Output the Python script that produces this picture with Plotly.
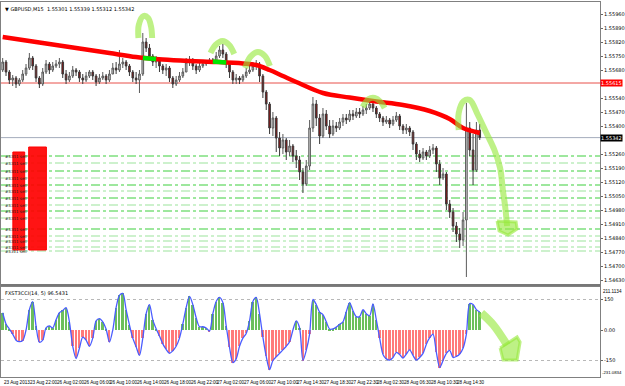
import plotly.graph_objects as go

# ---------------- data ----------------
first_open = 1.5568
closes = [1.5572,1.5567,1.5563,1.5564,1.5561,1.5563,1.5566,1.5569,1.5574,1.5570,
          1.5564,1.5561,1.5567,1.5571,1.5568,1.5570,1.5571,1.5572,1.5566,1.5563,
          1.5565,1.5568,1.5567,1.5564,1.5563,1.5565,1.5567,1.5565,1.5562,1.5564,
          1.5565,1.5563,1.5566,1.5569,1.5568,1.5571,1.5572,1.5570,1.5567,1.5564,
          1.5563,1.5566,1.5582,1.5579,1.5575,1.5572,1.5573,1.5570,1.5568,1.5569,
          1.5564,1.5561,1.5563,1.5565,1.5567,1.5572,1.5573,1.5570,1.5568,1.5570,
          1.5571,1.5572,1.5573,1.5572,1.5575,1.5578,1.5576,1.5571,1.5567,1.5563,
          1.5564,1.5563,1.5565,1.5567,1.5568,1.5570,1.5571,1.5565,1.5557,1.5551,
          1.5539,1.5544,1.5534,1.5529,1.5533,1.5527,1.5530,1.5525,1.5523,1.5517,
          1.5511,1.5520,1.5539,1.5551,1.5544,1.5535,1.5546,1.5540,1.5536,1.5540,
          1.5539,1.5542,1.5544,1.5543,1.5546,1.5545,1.5547,1.5546,1.5548,1.5549,
          1.5551,1.5549,1.5546,1.5544,1.5542,1.5543,1.5541,1.5543,1.5545,1.5540,
          1.5538,1.5539,1.5537,1.5531,1.5526,1.5524,1.5527,1.5525,1.5528,1.5529,
          1.5521,1.5514,1.5516,1.5501,1.5497,1.5490,1.5486,1.5483,1.5493,1.5539,
          1.5528,1.5518,1.5538,1.55342]
highs = [1.5574,1.5573,1.5568,1.55655,1.5565,1.5564,1.5568,1.5571,1.55765,1.5575,
         1.5571,1.5565,1.5569,1.5573,1.5572,1.5572,1.5573,1.5574,1.5573,1.5568,
         1.5567,1.5570,1.5569,1.5568,1.5566,1.5567,1.5568,1.5568,1.5566,1.5566,
         1.5567,1.5566,1.5568,1.55715,1.5572,1.5578,1.5574,1.5573,1.5571,1.5568,
         1.5567,1.5568,1.55865,1.5584,1.5581,1.5576,1.5575,1.5574,1.5571,1.5571,
         1.5570,1.5565,1.5565,1.5567,1.5569,1.5574,1.5575,1.5574,1.5571,1.5572,
         1.5573,1.5573,1.5574,1.5574,1.5577,1.5580,1.5581,1.5577,1.5572,1.5568,
         1.5566,1.5565,1.5566,1.5569,1.5570,1.5572,1.5573,1.5572,1.5566,1.5558,
         1.5552,1.5547,1.5545,1.5537,1.5536,1.5534,1.5533,1.5531,1.5528,1.5525,
         1.5519,1.5523,1.5543,1.55545,1.5553,1.5546,1.5549,1.5548,1.5543,1.5543,
         1.5542,1.5544,1.5546,1.5546,1.5548,1.5548,1.5549,1.5549,1.5550,1.5551,
         1.5553,1.55525,1.5550,1.5547,1.5545,1.5545,1.5544,1.5545,1.5547,1.5546,
         1.5541,1.5541,1.5540,1.5538,1.5532,1.5528,1.5529,1.5528,1.5530,1.5531,
         1.5530,1.5523,1.5519,1.5517,1.5503,1.5499,1.5492,1.5489,1.5497,1.55515,
         1.5542,1.5536,1.5542,1.5541]
lows = [1.5567,1.5565,1.5561,1.5560,1.5559,1.5560,1.5562,1.5565,1.5568,1.5568,
        1.5562,1.5559,1.5560,1.5566,1.5566,1.5567,1.5569,1.5569,1.5564,1.5561,
        1.5562,1.5564,1.5565,1.5562,1.5561,1.5562,1.5564,1.5563,1.5560,1.5561,
        1.5563,1.5561,1.5562,1.5566,1.5566,1.5567,1.5569,1.5568,1.5565,1.5562,
        1.5561,1.55565,1.5565,1.5577,1.5573,1.5570,1.5569,1.5567,1.5566,1.5565,
        1.5562,1.5559,1.5560,1.5562,1.5564,1.5567,1.5570,1.5568,1.5566,1.5567,
        1.5569,1.5570,1.5571,1.5571,1.5572,1.5574,1.5574,1.5569,1.5564,1.5561,
        1.5561,1.5561,1.5562,1.5564,1.5566,1.5567,1.5568,1.5562,1.5554,1.5548,
        1.5536,1.5535,1.5527,1.5525,1.5526,1.5523,1.5525,1.5522,1.5519,1.5513,
        1.55065,1.5510,1.5518,1.5537,1.5540,1.5531,1.5534,1.5538,1.5534,1.5535,
        1.5537,1.5538,1.5540,1.5541,1.5542,1.5543,1.5544,1.5544,1.5545,1.5546,
        1.5548,1.5547,1.5544,1.5542,1.5540,1.5541,1.5539,1.5540,1.5542,1.5538,
        1.5536,1.5536,1.5535,1.5528,1.5523,1.5522,1.5523,1.5523,1.5524,1.5526,
        1.5517,1.55105,1.5513,1.5498,1.5494,1.5487,1.5482,1.5479,1.5480,1.54645,
        1.5525,1.55105,1.5517,1.5533]

cci = [85,30,5,-20,-50,-57,-52,0,100,140,
       20,-60,-50,10,20,10,50,85,96,110,
       40,-80,-140,-90,-35,-50,-80,-40,45,56,
       40,5,-60,0,110,170,180,100,25,-40,
       -82,-125,-40,80,125,50,6,-30,-68,-95,
       -115,-102,-80,-40,30,110,165,125,60,16,
       16,10,-5,80,140,160,135,20,-85,-160,
       -142,-80,-40,-17,45,140,160,80,-35,-130,
       -195,-150,-132,-115,-98,-80,-58,0,45,10,
       -150,-100,-20,150,125,88,76,40,5,5,
       14,28,40,90,135,95,66,66,100,80,
       70,128,50,-40,-120,-142,-148,-135,-110,-120,
       -138,-118,-98,-125,-148,-135,-115,-70,-38,-20,
       -110,-185,-150,-115,-100,-135,-130,-118,-90,-20,
       130,125,100,88]

ma_idx = [0,8,16,24,32,40,48,56,64,72,76,80,84,88,96,104,112,120,128,134,138,143]
ma_val = [1.55845,1.55825,1.55805,1.55785,1.55765,1.55745,1.557325,1.55725,1.5572,
          1.557125,1.55705,1.5568,1.5565,1.5562,1.55565,1.555425,1.555225,1.55505,
          1.55475,1.55435,1.5539,1.55365]
hl_segments = [([42, 46], [1.55740, 1.55735]), ([63, 67], [1.55722, 1.55718])]

tick_every = 8
time_labels = ["23 Aug 2013", "23 Aug 22:00", "26 Aug 02:00", "26 Aug 06:00", "26 Aug 10:00",
               "26 Aug 14:00", "26 Aug 18:00", "26 Aug 22:00", "27 Aug 02:00", "27 Aug 06:00",
               "27 Aug 10:00", "27 Aug 14:30", "27 Aug 18:30", "27 Aug 22:30", "28 Aug 02:30",
               "28 Aug 06:30", "28 Aug 10:30", "28 Aug 14:30"]

price_ticks = [1.5596, 1.5589, 1.5582, 1.5575, 1.5568, 1.5554, 1.5547, 1.5540,
               1.5526, 1.5519, 1.5512, 1.5505, 1.5498, 1.5491, 1.5484, 1.5477, 1.5470, 1.5463]
red_level = 1.55615
bid_level = 1.55342
order_levels = [1.5525, 1.55215, 1.55175, 1.5514, 1.55105, 1.55075, 1.5504, 1.55005,
                1.54975, 1.5494, 1.54885, 1.5485, 1.54825, 1.54795, 1.54775]
order_strong = [1, 0, 1, 0, 1, 0, 1, 0, 1, 0, 1, 0, 0, 0, 0]

# hand-drawn highlighter marks (bar index, price)
arcs = [
    ([40.7, 40.8, 42.2, 43.6, 44.5, 44.8], [1.5584, 1.55905, 1.5595, 1.5594, 1.55895, 1.5584]),
    ([62.3, 63.8, 65.9, 67.9, 69.4], [1.55765, 1.55805, 1.55825, 1.55805, 1.5576]),
    ([72.7, 74.2, 76.5, 78.6, 80.1], [1.5569, 1.55745, 1.5577, 1.5575, 1.5570]),
    ([107.9, 109.7, 111.5, 113.3, 114.5], [1.55495, 1.55535, 1.5554, 1.5552, 1.5549]),
    ([136.7, 136.7, 138.2, 140.0, 142.3, 145.0, 147.4, 149.1, 150.0, 150.6, 151.2],
     [1.5538, 1.55465, 1.55525, 1.5553, 1.5546, 1.55365, 1.5528, 1.5519, 1.5507, 1.5500, 1.5490]),
]
arrow_head_x = [148.2, 153.9, 154.2, 151.5, 148.8, 148.2]
arrow_head_y = [1.54925, 1.5492, 1.54885, 1.54855, 1.54875, 1.54925]
sub_arrow_x = [143.5, 147.1, 151.2]
sub_arrow_y = [83.6, 24.6, -73.8]
sub_head_x = [149.1, 154.2, 155.1, 154.2, 150.0, 149.1]
sub_head_y = [-88.5, -34.0, -59.0, -147.5, -147.5, -88.5]
scribbles = [((3.05, 6.6), (1.5478, 1.5527)), ((7.8, 13.1), (1.5478, 1.55295))]

x_range = [-0.504, 179.05]
main_range = [1.54605, 1.5602]
sub_range = [-231.1, 211.5]

# ---------------- figure ----------------
opens = [first_open] + closes[:-1]
idx = list(range(len(closes)))
FONT = "DejaVu Sans"
NARROW = "Liberation Sans Narrow, Liberation Sans, Arial Narrow, sans-serif"
LIME = "rgba(150,232,60,0.62)"

fig = go.Figure()

# red scribble blocks (hand drawing)
for (xa, xb), (ya, yb) in scribbles:
    fig.add_trace(go.Scatter(x=[xa, xb, xb, xa, xa], y=[ya, ya, yb, yb, ya], mode="lines",
                             fill="toself", fillcolor="rgba(255,0,0,0.92)",
                             line=dict(color="#ff0000", width=1), showlegend=False,
                             hoverinfo="skip", xaxis="x", yaxis="y"))

fig.add_trace(go.Candlestick(x=idx, open=opens, high=highs, low=lows, close=closes,
                             increasing=dict(line=dict(color="#5a5a5a", width=1), fillcolor="#d0d0d0"),
                             decreasing=dict(line=dict(color="#3a3a3a", width=1), fillcolor="#8e1010"),
                             whiskerwidth=0, showlegend=False, hoverinfo="skip",
                             xaxis="x", yaxis="y"))

fig.add_trace(go.Scatter(x=ma_idx, y=ma_val, mode="lines", line=dict(color="#ff0000", width=4.5, shape="spline"),
                         showlegend=False, hoverinfo="skip", xaxis="x", yaxis="y"))
for hx, hy in hl_segments:
    fig.add_trace(go.Scatter(x=hx, y=hy, mode="lines", line=dict(color="#00e600", width=4.5),
                             showlegend=False, hoverinfo="skip", xaxis="x", yaxis="y"))

for ax_, ay_ in arcs:
    fig.add_trace(go.Scatter(x=ax_, y=ay_, mode="lines", line=dict(color=LIME, width=6, shape="spline"),
                             showlegend=False, hoverinfo="skip", xaxis="x", yaxis="y"))
fig.add_trace(go.Scatter(x=arrow_head_x, y=arrow_head_y, mode="lines", fill="toself", fillcolor=LIME,
                         line=dict(color=LIME, width=3), showlegend=False, hoverinfo="skip",
                         xaxis="x", yaxis="y"))

# indicator panel
bar_colors = ["#6cbf5c" if v >= 0 else "#ff7a7a" for v in cci]
fig.add_trace(go.Bar(x=idx, y=cci, width=0.55, marker=dict(color=bar_colors, line=dict(width=0)),
                     showlegend=False, hoverinfo="skip", xaxis="x2", yaxis="y2"))
fig.add_trace(go.Scatter(x=idx, y=cci, mode="lines", line=dict(color="#4a5cff", width=1.3, shape="spline", smoothing=0.8),
                         showlegend=False, hoverinfo="skip", xaxis="x2", yaxis="y2"))
fig.add_trace(go.Scatter(x=sub_arrow_x, y=sub_arrow_y, mode="lines", line=dict(color=LIME, width=8, shape="spline"),
                         showlegend=False, hoverinfo="skip", xaxis="x2", yaxis="y2"))
fig.add_trace(go.Scatter(x=sub_head_x, y=sub_head_y, mode="lines", fill="toself", fillcolor=LIME,
                         line=dict(color=LIME, width=3), showlegend=False, hoverinfo="skip",
                         xaxis="x2", yaxis="y2"))

shapes = []
for lvl, strong in zip(order_levels, order_strong):
    shapes.append(dict(type="line", xref="paper", yref="y", x0=0, x1=1, y0=lvl, y1=lvl, layer="below",
                       line=dict(color="#3ccf3c" if strong else "#9be39b", width=1, dash="dashdot")))
shapes.append(dict(type="line", xref="paper", yref="y", x0=0, x1=1, y0=red_level, y1=red_level,
                   layer="below", line=dict(color="#e8504a", width=1)))
shapes.append(dict(type="line", xref="paper", yref="y", x0=0, x1=1, y0=bid_level, y1=bid_level,
                   layer="below", line=dict(color="#a4acbc", width=1)))
for lv in (150, -150):
    shapes.append(dict(type="line", xref="paper", yref="y2", x0=0, x1=1, y0=lv, y1=lv, layer="below",
                       line=dict(color="#b8b8b8", width=1, dash="dot")))
shapes.append(dict(type="line", xref="paper", yref="paper", x0=0, x1=1, y0=0.2453, y1=0.2453,
                   line=dict(color="#777777", width=2)))

annotations = []
for k, lab in enumerate(time_labels):
    annotations.append(dict(x=k * tick_every - 0.3, y=0, xref="x", yref="paper", text=lab, showarrow=False,
                            xanchor="left", yanchor="top", yshift=-1,
                            font=dict(family=NARROW, size=4.6, color="#000")))
for lvl in order_levels:
    annotations.append(dict(x=0.2, y=lvl, xref="x", yref="y", text="#3311 sell", showarrow=False,
                            xanchor="left", yanchor="middle", font=dict(family=FONT, size=4, color="#222")))
annotations.append(dict(x=1, y=red_level, xref="paper", yref="y", text="1.55615", showarrow=False,
                        xanchor="left", yanchor="middle", bgcolor="#ff0000", borderpad=0,
                        font=dict(family=FONT, size=5, color="#ffffff")))
annotations.append(dict(x=1, y=bid_level, xref="paper", yref="y", text="1.55342", showarrow=False,
                        xanchor="left", yanchor="middle", bgcolor="#000000", borderpad=0,
                        font=dict(family=FONT, size=5, color="#ffffff")))
annotations.append(dict(x=0.004, y=1, xref="paper", yref="paper", text="▼ GBPUSD,M15  1.55301 1.55339 1.55312 1.55342",
                        showarrow=False, xanchor="left", yanchor="top", yshift=-2,
                        font=dict(family=FONT, size=5, color="#000")))
annotations.append(dict(x=0.004, y=0.24, xref="paper", yref="paper", text="FXST3CCI(14, 5) 96.5431",
                        showarrow=False, xanchor="left", yanchor="top", yshift=-1,
                        font=dict(family=FONT, size=5, color="#000")))
annotations.append(dict(x=1, y=sub_range[1], xref="paper", yref="y2", text="211.1134", showarrow=False,
                        xanchor="left", yanchor="top", xshift=1, font=dict(family=NARROW, size=4.6, color="#000")))
annotations.append(dict(x=1, y=sub_range[0], xref="paper", yref="y2", text="-231.0834", showarrow=False,
                        xanchor="left", yanchor="bottom", xshift=0, font=dict(family=NARROW, size=4.3, color="#000")))

axis_common = dict(showgrid=False, zeroline=False, showline=True, mirror=True, linecolor="#808080", linewidth=1)
fig.update_layout(
    width=625, height=386,
    margin=dict(l=0, r=19, t=2, b=9),
    paper_bgcolor="#ffffff", plot_bgcolor="#ffffff",
    showlegend=False, bargap=0,
    xaxis=dict(domain=[0, 1], range=x_range, anchor="y", showticklabels=False, ticks="",
               rangeslider=dict(visible=False), **axis_common),
    yaxis=dict(domain=[0.2453, 1], range=main_range, anchor="x", side="right",
               tickvals=price_ticks, ticktext=[f"{v:.5f}" for v in price_ticks],
               tickfont=dict(family=FONT, size=5, color="#000"), ticks="outside", ticklen=2,
               tickcolor="#666", **axis_common),
    xaxis2=dict(domain=[0, 1], range=x_range, anchor="y2", matches="x", showticklabels=False,
                ticks="", **axis_common),
    yaxis2=dict(domain=[0, 0.24], range=sub_range, anchor="x2", side="right",
                tickvals=[150, 0, -150], ticktext=["150", "0.00", "-150"],
                tickfont=dict(family=FONT, size=5, color="#000"), ticks="outside", ticklen=2,
                tickcolor="#666", **axis_common),
    shapes=shapes, annotations=annotations,
)

fig.write_html("out.html")
